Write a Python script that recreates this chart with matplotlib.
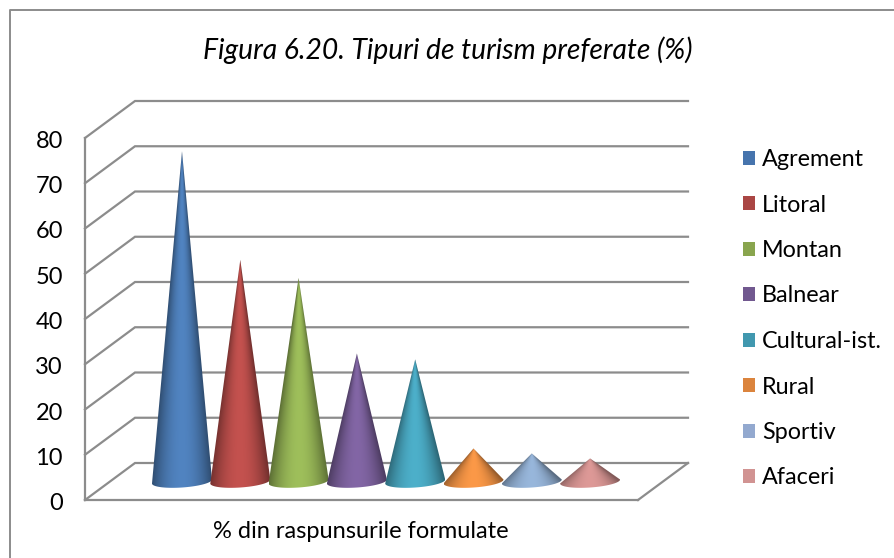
import numpy as np
import matplotlib
matplotlib.use('Agg')
import matplotlib.pyplot as plt
from matplotlib.colors import to_rgb
from matplotlib.lines import Line2D
from matplotlib.patches import Patch, Polygon
from matplotlib.transforms import ScaledTranslation

plt.rcParams['font.family'] = ['Lato', 'DejaVu Sans']

# Data
categories = ['Agrement', 'Litoral', 'Montan', 'Balnear', 'Cultural-ist.', 'Rural', 'Sportiv', 'Afaceri']
values = [73, 49, 45, 28.3, 27, 7.3, 6.2, 5.1]
cone_colors = ['#4F81BD', '#C0504D', '#9BBB59', '#8064A2', '#4BACC6', '#F79646', '#95B3D7', '#D99694']
legend_colors = ['#4674AD', '#AA4644', '#89A54E', '#71588F', '#4198AF', '#DB843D', '#93A9CF', '#D19392']
y_ticks = [0, 10, 20, 30, 40, 50, 60, 70, 80]
title = 'Figura 6.20. Tipuri de turism preferate (%)'
x_label = '% din raspunsurile formulate'

W, H = 894, 558
GRID = '#8C8C8C'

fig = plt.figure(figsize=(W / 100, H / 100), dpi=100)

# chart frame, only the left and top edges are inside the picture
fig.add_artist(Line2D([9.5 / W, 9.5 / W, 1], [0, 1 - 10 / H, 1 - 10 / H],
                      transform=fig.transFigure, color='#8C8C8C', linewidth=1.4))

# axes sits on the front plane of the 3D box
ax = fig.add_axes([85 / W, 1 - 500 / H, 553 / W, 362 / H])
ax.patch.set_alpha(0)
step = 58.3  # pixels per category
xmin = -72 / step
ax.set_xlim(xmin, xmin + 553 / step)
ax.set_ylim(0, 80)
upp = 80 / 362  # value per pixel

# depth of the box, in data units
dx = 50 / step
dy = 37 * upp

for s in ['top', 'right']:
    ax.spines[s].set_visible(False)
for s in ['left', 'bottom']:
    ax.spines[s].set_color(GRID)
    ax.spines[s].set_linewidth(1.6)

xmax = ax.get_xlim()[1]
for v in y_ticks:
    ax.plot([xmin, xmin + dx, xmax + dx], [v, v + dy, v + dy], color=GRID, lw=1.6,
            clip_on=False, zorder=1, solid_joinstyle='miter')
ax.plot([xmax, xmax + dx], [0, dy], color=GRID, lw=1.6, clip_on=False, zorder=1)

# cones sit at mid depth, shaded per pixel and clipped to the silhouette
a = 30 / step
b = 6 * upp
tilt = 2 * upp
for i, (val, col) in enumerate(zip(values, cone_colors)):
    cx = i + dx / 2
    base = dy / 2
    t = np.linspace(-np.pi / 2, np.pi / 2, 80)
    px = np.r_[cx, cx + a * np.sin(t)]
    py = np.r_[base + val, base - b * np.cos(t) + tilt * np.sin(t)]
    x0, x1 = cx - a, cx + a
    y0, y1 = py.min(), py.max()
    gx, gy = np.meshgrid(np.linspace(x0, x1, 150), np.linspace(y0, y1, 300))
    width = np.clip(1 - (gy - base) / val, 0.004, None)
    r = np.clip((gx - cx) / (a * width), -1, 1)
    k = 0.6 + 0.42 * (1 - r ** 2)
    img = np.clip(k[..., None] * np.array(to_rgb(col)), 0, 1)
    im = ax.imshow(img, extent=(x0, x1, y0, y1), origin='lower', aspect='auto',
                   interpolation='bilinear', zorder=3 + i)
    im.set_clip_path(Polygon(np.c_[px, py], closed=True, transform=ax.transData))

ax.set_xlim(xmin, xmin + 553 / step)
ax.set_ylim(0, 80)
ax.set_xticks([])
ax.set_yticks(y_ticks)
ax.tick_params(axis='y', length=0, pad=16, labelsize=17, labelcolor='black')
# tick labels sit slightly below their gridline
shift = ScaledTranslation(0, -1.5 / 100, fig.dpi_scale_trans)
for lab in ax.get_yticklabels():
    lab.set_transform(lab.get_transform() + shift)
ax.set_xlabel(x_label, fontsize=17)
ax.xaxis.set_label_coords((361 - 85) / 553, -(532 - 500) / 362, transform=ax.transAxes)
ax.xaxis.label.set_verticalalignment('center')

fig.text(447.5 / W, 1 - 50 / H, title, fontsize=20.3, style='italic', ha='center', va='center')

handles = [Patch(facecolor=c, label=n) for c, n in zip(legend_colors, categories)]
fig.legend(handles=handles, loc='upper left', bbox_to_anchor=(743 / W, 1 - 149 / H), frameon=False,
           fontsize=16.8, handlelength=0.52, handleheight=0.52, handletextpad=0.3, labelspacing=1.05,
           borderpad=0, borderaxespad=0)

fig.savefig('out.png', dpi=100)
